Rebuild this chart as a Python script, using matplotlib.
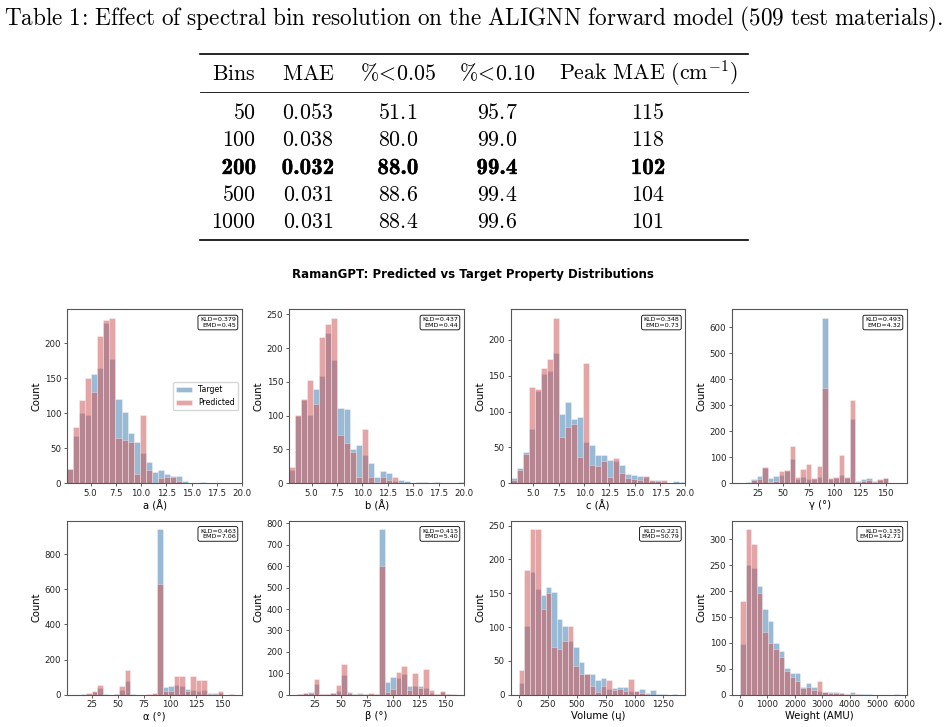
import numpy as np
import matplotlib
matplotlib.use('Agg')
import matplotlib.pyplot as plt
import matplotlib.patheffects as pe
from matplotlib.lines import Line2D
from matplotlib.ticker import MultipleLocator, FormatStrFormatter

plt.rcParams['mathtext.fontset'] = 'cm'
plt.rcParams['font.family'] = ['DejaVu Sans']

# ---------------- table data ----------------
caption = 'Table 1: Effect of spectral bin resolution on the ALIGNN forward model (509 test materials).'
bins_col = [50, 100, 200, 500, 1000]
mae_col = [0.053, 0.038, 0.032, 0.031, 0.031]
pct05_col = [51.1, 80.0, 88.0, 88.6, 88.4]
pct10_col = [95.7, 99.0, 99.4, 99.4, 99.6]
peak_col = [115, 118, 102, 104, 101]
best_row = 2

# ---------------- histogram data (29 bins each) ----------------
title = 'RamanGPT: Predicted vs Target Property Distributions'
labels = ['a (Å)', 'b (Å)', 'c (Å)', 'γ (°)', 'α (°)', 'β (°)', 'Volume (ų)', 'Weight (AMU)']
ranges = [(2.7, 20.0), (2.8, 20.0), (2.75, 20.0), (7.96, 163.2),
          (8.5, 161.7), (8.5, 160.5), (-3.4, 1372.0), (9.0, 5795.0)]
kld = [0.379, 0.437, 0.348, 0.493, 0.463, 0.415, 0.221, 0.135]
emd = [0.45, 0.44, 0.73, 4.32, 7.06, 5.40, 50.79, 142.71]

a_target = [20, 68, 101, 97, 157, 165, 229, 178, 121, 102, 72, 59, 43, 31, 16, 19, 13, 11, 11, 3, 0, 1, 2, 0, 0, 1, 0, 0, 1]
a_pred = [20, 80, 119, 150, 130, 211, 234, 237, 65, 62, 59, 14, 97, 19, 1, 7, 9, 9, 4, 1, 0, 0, 0, 0, 0, 0, 0, 0, 0]
b_target = [20, 100, 123, 101, 140, 159, 222, 183, 111, 110, 51, 56, 42, 30, 9, 18, 15, 3, 5, 3, 1, 2, 2, 0, 2, 0, 0, 0, 2]
b_pred = [24, 101, 125, 152, 117, 216, 235, 245, 71, 60, 47, 10, 81, 10, 2, 10, 5, 9, 1, 0, 0, 0, 0, 0, 0, 0, 0, 0, 0]
c_target = [7, 21, 44, 75, 129, 152, 156, 181, 96, 113, 89, 93, 57, 53, 40, 40, 32, 31, 26, 13, 12, 10, 9, 3, 5, 2, 1, 3, 2]
c_pred = [5, 19, 41, 134, 131, 161, 173, 231, 64, 78, 82, 37, 168, 25, 24, 31, 9, 35, 14, 7, 6, 4, 10, 4, 3, 4, 1, 1, 0]
gamma_target = [1, 6, 15, 28, 58, 21, 28, 32, 48, 94, 17, 24, 17, 15, 26, 637, 18, 21, 32, 20, 247, 9, 17, 19, 8, 11, 19, 2, 1]
gamma_pred = [0, 2, 11, 17, 61, 5, 9, 46, 50, 145, 23, 55, 73, 20, 66, 366, 20, 23, 108, 24, 319, 4, 8, 11, 5, 15, 21, 3, 1]
alpha_target = [0, 5, 6, 15, 36, 3, 0, 2, 25, 78, 5, 0, 0, 1, 3, 943, 42, 48, 55, 51, 30, 25, 22, 27, 8, 8, 12, 1, 0]
alpha_pred = [0, 1, 8, 21, 57, 1, 0, 6, 48, 139, 1, 0, 0, 2, 7, 631, 19, 23, 108, 108, 23, 108, 82, 82, 2, 3, 23, 1, 2]
beta_target = [5, 6, 14, 48, 5, 5, 8, 17, 93, 11, 5, 9, 1, 2, 4, 774, 59, 81, 78, 97, 42, 41, 42, 29, 9, 2, 12, 1, 0]
beta_pred = [1, 8, 6, 73, 3, 2, 10, 44, 142, 8, 4, 2, 1, 8, 5, 600, 12, 25, 104, 136, 22, 100, 30, 122, 23, 3, 19, 1, 1]
vol_target = [18, 102, 182, 156, 147, 159, 152, 112, 101, 80, 70, 49, 31, 30, 22, 25, 8, 10, 12, 11, 6, 5, 8, 2, 7, 1, 1, 0, 1]
vol_pred = [36, 184, 245, 245, 127, 150, 71, 67, 79, 101, 42, 31, 30, 13, 4, 13, 22, 7, 8, 5, 23, 5, 3, 1, 0, 0, 0, 0, 0]
weight_target = [97, 250, 245, 210, 166, 142, 99, 85, 52, 42, 41, 14, 22, 14, 8, 6, 6, 5, 3, 2, 6, 1, 1, 1, 0, 0, 0, 0, 1]
weight_pred = [180, 320, 291, 196, 121, 99, 89, 73, 46, 35, 26, 13, 14, 9, 27, 6, 3, 4, 3, 2, 2, 2, 0, 0, 0, 0, 0, 0, 0]

targets = [a_target, b_target, c_target, gamma_target, alpha_target, beta_target, vol_target, weight_target]
preds = [a_pred, b_pred, c_pred, gamma_pred, alpha_pred, beta_pred, vol_pred, weight_pred]

# ---------------- figure ----------------
W, H = 946, 727
fig = plt.figure(figsize=(W / 100, H / 100), dpi=100)
renderer = fig.canvas.get_renderer()


def fx(x):
    return x / W


def fy(y):
    return 1 - y / H


def fit(t, width_px):
    bb = t.get_window_extent(renderer)
    t.set_fontsize(t.get_fontsize() * width_px / bb.width)


def m(s):
    return s.replace(' ', r'\ ')


# caption
cap = fig.text(fx(473), fy(25), '$\\mathrm{' + m(caption).replace(':', r'\!:\!') + '}$',
               ha='center', va='baseline', fontsize=14)
fit(cap, 940)

# table
col_x = [256, 308, 398, 497, 648]
col_ha = ['right', 'center', 'center', 'center', 'center']
headers = [r'$\mathrm{Bins}$', r'$\mathrm{MAE}$', r'$\%\!<\!0.05$', r'$\%\!<\!0.10$',
           r'$\mathrm{Peak\ MAE\ (cm}^{-1}\mathrm{)}$']
t = fig.text(0, 0, headers[4], fontsize=14)
fit(t, 179)
tsize = t.get_fontsize()
t.remove()

hdr_base = 80
row_base = [119, 146.5, 174, 201, 228]
for j, h in enumerate(headers):
    fig.text(fx(col_x[j]), fy(hdr_base), h, ha=col_ha[j], va='baseline', fontsize=tsize)

bold_fx = [pe.withStroke(linewidth=0.25, foreground='black')]
for i in range(len(bins_col)):
    cells = [f'{bins_col[i]}', f'{mae_col[i]:.3f}', f'{pct05_col[i]:.1f}',
             f'{pct10_col[i]:.1f}', f'{peak_col[i]}']
    for j, c in enumerate(cells):
        if i == best_row:
            fig.text(fx(col_x[j]), fy(row_base[i]), c, ha=col_ha[j], va='baseline',
                     fontsize=tsize * 1.05, family=['cmb10'], path_effects=bold_fx)
        else:
            fig.text(fx(col_x[j]), fy(row_base[i]), '$' + c + '$', ha=col_ha[j],
                     va='baseline', fontsize=tsize)

for y, lw in [(53.5, 1.2), (92, 0.6), (240, 1.2)]:
    fig.add_artist(Line2D([fx(200), fx(748)], [fy(y), fy(y)], transform=fig.transFigure,
                          color='black', lw=lw))

# title of histograms
tt = fig.text(fx(473), fy(274), title, ha='center', va='center', fontweight='bold', fontsize=8)
fit(tt, 360)

# histogram axes
left_px = [67.3, 289.3, 510.7, 732.3]
top_px = [309.3, 520.7]
aw, ah = 174.7, 174.0
xmajor = [2.5, 2.5, 2.5, 25, 25, 25, 250, 1000]
ymajor = [50, 50, 50, 100, 200, 100, 50, 50]
c_t = 'steelblue'
c_p = 'indianred'

for k in range(8):
    r, c = divmod(k, 4)
    ax = fig.add_axes([fx(left_px[c]), fy(top_px[r] + ah), aw / W, ah / H])
    lo, hi = ranges[k]
    edges = np.linspace(lo, hi, len(targets[k]) + 1)
    centers = 0.5 * (edges[:-1] + edges[1:])
    ax.hist(centers, bins=edges, weights=targets[k], color=c_t, alpha=0.55,
            edgecolor='white', linewidth=0.4, label='Target')
    ax.hist(centers, bins=edges, weights=preds[k], color=c_p, alpha=0.55,
            edgecolor='white', linewidth=0.4, label='Predicted')
    if k < 3:
        ax.set_xlim(lo, hi)
    ax.xaxis.set_major_locator(MultipleLocator(xmajor[k]))
    ax.yaxis.set_major_locator(MultipleLocator(ymajor[k]))
    if k < 3:
        ax.xaxis.set_major_formatter(FormatStrFormatter('%.1f'))
    ax.set_xlabel(labels[k], fontsize=7.2, labelpad=1.5)
    ax.set_ylabel('Count', fontsize=7.2, labelpad=2)
    ax.tick_params(labelsize=6.2, length=2.5, width=0.6, color='#444444', labelcolor='#222222')
    ax.tick_params(axis='x', pad=1.5)
    ax.tick_params(axis='y', pad=2.0)
    for sp in ax.spines.values():
        sp.set_color('#555555')
        sp.set_linewidth(0.8)
    ax.text(0.965, 0.955, f'KLD={kld[k]:.3f}\nEMD={emd[k]:.2f}', transform=ax.transAxes,
            ha='right', va='top', fontsize=4.6, multialignment='right',
            bbox=dict(boxstyle='round,pad=0.3', fc='white', ec='black', lw=0.6))
    if k == 0:
        ax.legend(loc='center right', fontsize=5.6)

fig.savefig('out.png', dpi=100)
